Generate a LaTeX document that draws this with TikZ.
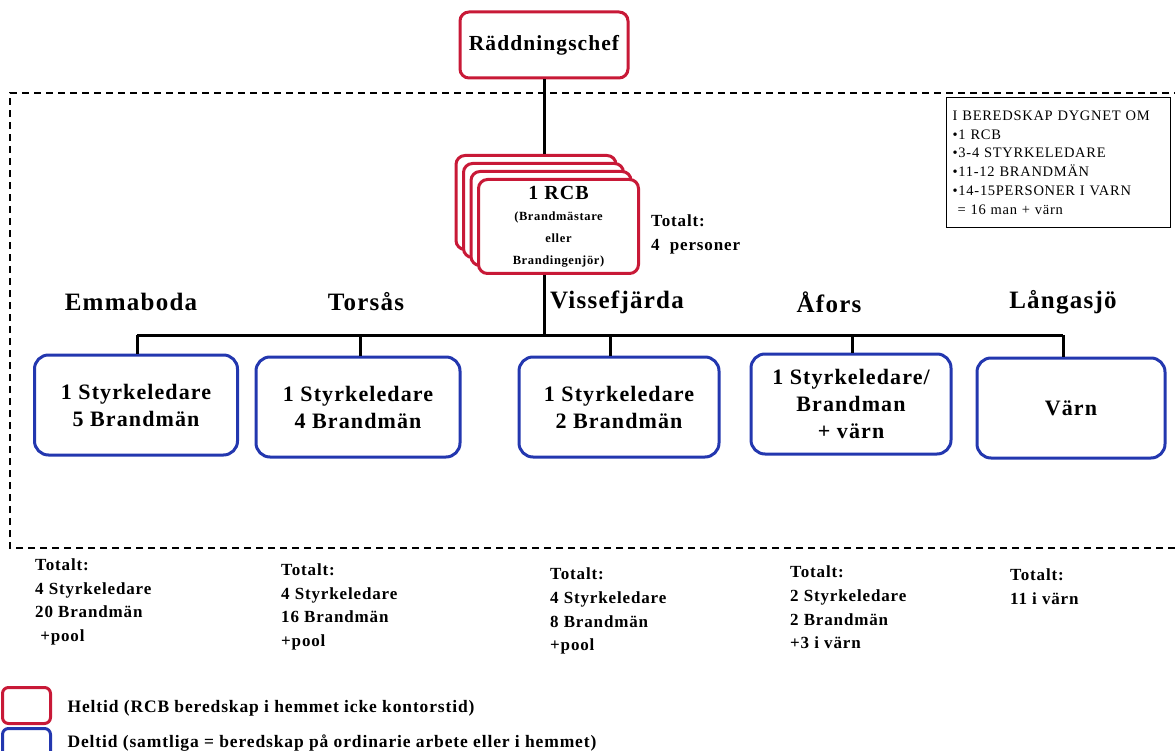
\documentclass[tikz,border=0pt]{standalone}
\usepackage{fontspec}
\setmainfont[LetterSpace=5]{Liberation Serif}
\usetikzlibrary{positioning}

\definecolor{heltred}{RGB}{200,25,55}
\definecolor{deltblue}{RGB}{35,55,175}

\def\rcbsmall{\fontsize{12.5}{17.5}\selectfont}

\tikzset{
  redbox/.style={draw=heltred, line width=3pt, rounded corners=9pt, fill=white, align=center,
    font=\bfseries\fontsize{21.5}{24}\selectfont},
  bluebox/.style={draw=deltblue, line width=3pt, rounded corners=14pt, align=center,
    minimum height=100pt, font=\bfseries\fontsize{22}{27}\selectfont},
  ortlabel/.style={font=\bfseries\fontsize{25}{28}\selectfont},
  totals/.style={anchor=north west, align=left, inner sep=0pt, font=\bfseries\fontsize{17}{23.5}\selectfont},
}

\begin{document}
\begin{tikzpicture}[x=1pt,y=-1pt]
  \useasboundingbox (0,0) rectangle (1175,751);

  % Chief
  \node[redbox, minimum width=168pt, minimum height=66pt] (chef) at (544,45) {Räddningschef};

  % Dashed frame
  \draw[dash pattern=on 7pt off 5pt, line width=1.3pt] (1175,548) -- (10,548) -- (10,93) -- (1175,93);

  % Info box
  \node[draw, line width=1.4pt, anchor=north west, minimum width=224pt, minimum height=130pt,
        align=left, text width=212pt, inner sep=5pt, font=\fontsize{14.5}{18.9}\selectfont] (info) at (946,97)
       {I BEREDSKAP DYGNET OM\\•1 RCB\\•3-4 STYRKELEDARE\\•11-12 BRANDMÄN\\•14-15PERSONER I VARN\\ \ = 16 man + värn};

  % RCB stack
  \foreach \k in {3,2,1}
    \node[redbox, minimum width=160pt, minimum height=94pt, anchor=north west] (rcb\k) at (477-7.5*\k,178-8*\k) {};
  \node[redbox, minimum width=160pt, minimum height=94pt, anchor=north west, font=\bfseries\fontsize{20}{22}\selectfont] (rcb) at (477,178)
       {1 RCB\\[-1pt]\rcbsmall (Brandmästare\\\rcbsmall eller\\\rcbsmall Brandingenjör)};
  \node[anchor=north west, align=left, inner sep=0pt, font=\bfseries\fontsize{17}{23.5}\selectfont] (rcbtot) at (651,215)
       {Totalt:\\4\ \ personer};

  % Bus
  \coordinate (busL) at (137,335);
  \coordinate (busR) at (1063,335);
  \draw[line width=3pt] (chef.south) -- (chef.south |- rcb3.north);
  \draw[line width=3pt] (chef.south |- rcb.south) -- (chef.south |- busL);
  \draw[line width=3pt] (busL) -- (busR);

  % Stations
  \foreach \i/\x/\y/\w/\dx/\lx/\ort/\txt in {
      1/136/405/203/137/131/Emmaboda/{1 Styrkeledare\\5 Brandmän},
      2/358/407/204/360/366/Torsås/{1 Styrkeledare\\4 Brandmän},
      3/619/407/200/610/617/Vissefjärda/{1 Styrkeledare\\2 Brandmän},
      4/851/404/200/852/829/Åfors/{1 Styrkeledare/\\Brandman\\+ värn},
      5/1071/408/188/1063/1063/Långasjö/{Värn}}
  {
    \node[bluebox, minimum width=\w pt] (b\i) at (\x,\y) {\txt};
    \node[ortlabel] (ort\i) at (\lx,302) {\ort};
    \coordinate (d\i) at (\dx,335);
    \draw[line width=3pt] (d\i) -- (d\i |- b\i.north);
  }

  % Totals
  \node[totals] (tot1) at (35,559) {Totalt:\\4 Styrkeledare\\20 Brandmän\\\ +pool};
  \node[totals] (tot2) at (281,564) {Totalt:\\4 Styrkeledare\\16 Brandmän\\+pool};
  \node[totals] (tot3) at (550,568) {Totalt:\\4 Styrkeledare\\8 Brandmän\\+pool};
  \node[totals] (tot4) at (790,566) {Totalt:\\2 Styrkeledare\\2 Brandmän\\+3 i värn};
  \node[totals] (tot5) at (1010,569) {Totalt:\\11 i värn};

  % Legend
  \node[draw=heltred, line width=3pt, rounded corners=6pt, minimum width=48pt, minimum height=36pt,
        anchor=north west] (legred) at (1,686) {};
  \node[draw=deltblue, line width=3pt, rounded corners=6pt, minimum width=48pt, minimum height=36pt,
        anchor=north west] (legblue) at (1,727) {};
  \node[anchor=west, font=\bfseries\fontsize{17.5}{20}\selectfont] (legredtxt) at (64,708)
       {Heltid (RCB beredskap i hemmet icke kontorstid)};
  \node[anchor=west, font=\bfseries\fontsize{17.5}{20}\selectfont] (legbluetxt) at (64,743)
       {Deltid (samtliga = beredskap på ordinarie arbete eller i hemmet)};
\end{tikzpicture}
\end{document}
